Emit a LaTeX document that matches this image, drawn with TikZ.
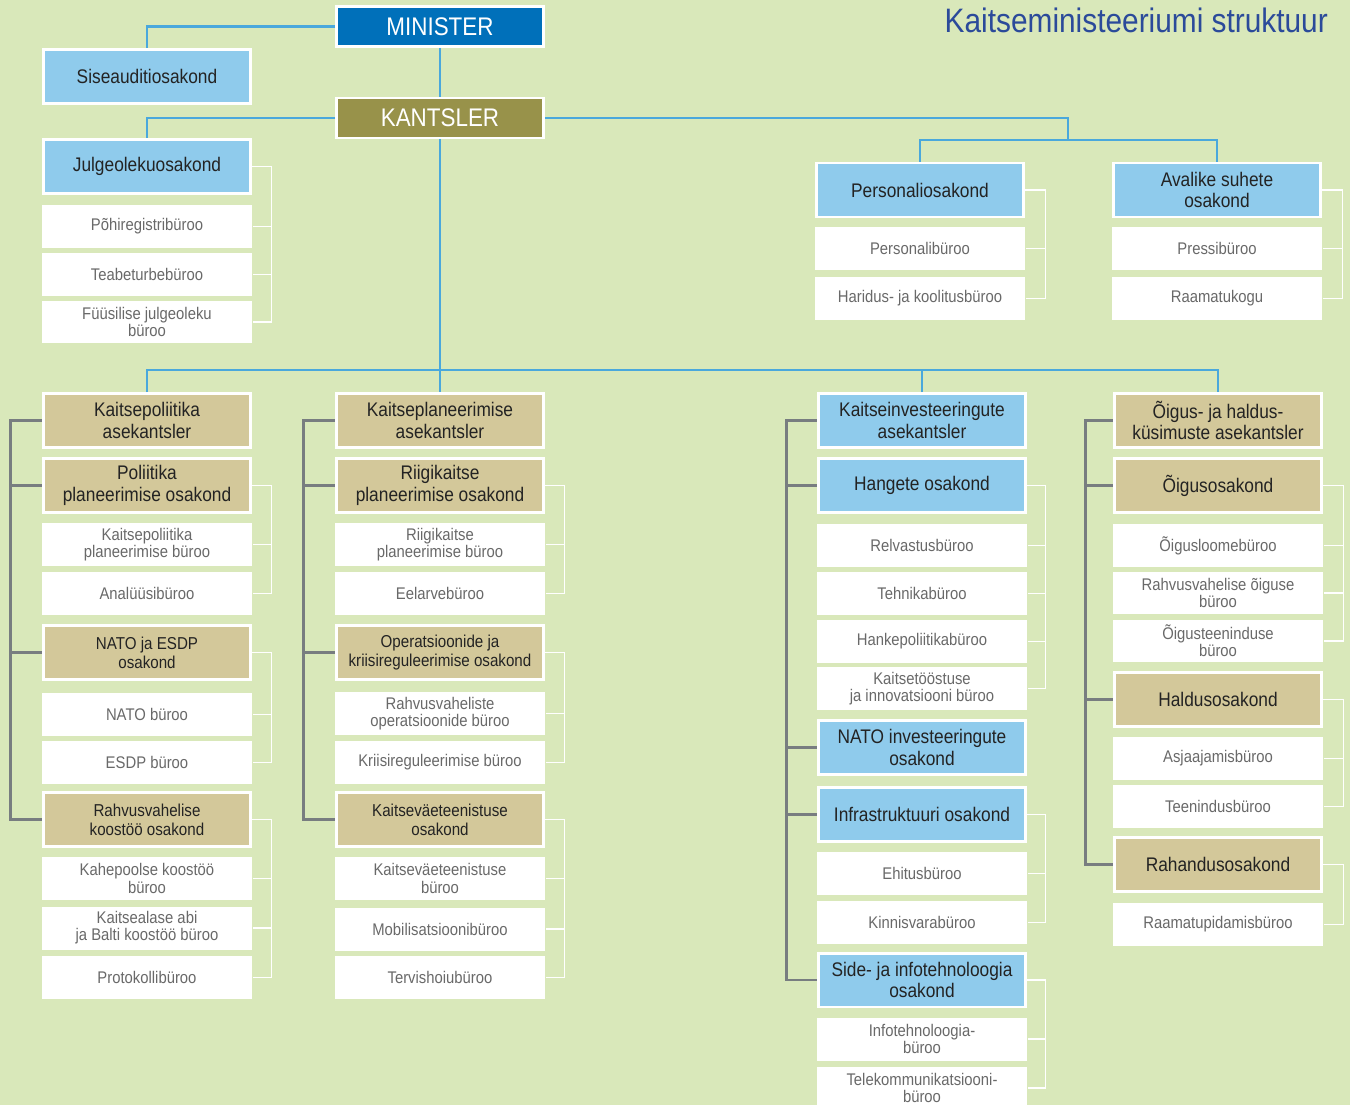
\documentclass[tikz,border=0pt]{standalone}
\usepackage{fontspec}
\setmainfont{Liberation Sans}[FakeStretch=0.88]
\definecolor{taust}{RGB}{217,232,186}
\definecolor{helesinine}{RGB}{143,203,236}
\definecolor{tumesinine}{RGB}{0,112,186}
\definecolor{oliiv}{RGB}{152,146,74}
\definecolor{beez}{RGB}{211,200,154}
\definecolor{joon}{RGB}{74,168,220}
\definecolor{hallijoon}{RGB}{120,125,128}
\definecolor{pealkiri}{RGB}{43,74,154}
\definecolor{tekst}{RGB}{35,35,35}
\definecolor{halltekst}{RGB}{105,105,105}
\begin{document}
\begin{tikzpicture}[x=0.02cm,y=-0.02cm,
    osakond/.style={draw=white,line width=1.7pt,minimum width=4.16cm,minimum height=1.08cm,
      align=center,inner sep=1pt,text=tekst,font=\fontsize{11.2}{12.2}\selectfont},
    sinine/.style={osakond,fill=helesinine},
    pruun/.style={osakond,fill=beez},
    vaike/.style={font=\fontsize{9.8}{10.8}\selectfont},
    buroo/.style={fill=white,minimum width=4.22cm,minimum height=0.86cm,align=center,
      inner sep=1pt,text=halltekst,font=\fontsize{9.6}{9.8}\selectfont},
    juht/.style={draw=white,line width=1.7pt,minimum width=4.14cm,minimum height=0.8cm,
      text=white,font=\fontsize{14.5}{15}\selectfont},
    link/.style={draw=joon,line width=1.2pt},
    haru/.style={draw=hallijoon,line width=1.3pt},
    klamber/.style={draw=white,line width=0.9pt}]
  \fill[taust] (0,0) rectangle (1350,1105); % background
  \useasboundingbox (0,0) rectangle (1350,1105);
  \clip (0,0) rectangle (1350,1105);

  \node[anchor=base east,text=pealkiri,font=\fontsize{19.3}{22}\selectfont] (pealkiri) at (1334,33) {Kaitseministeeriumi struktuur};

  % top
  \node[juht,fill=tumesinine] (minister) at (440,26.5) {MINISTER};
  \node[juht,fill=oliiv] (kantsler) at (440,118) {KANTSLER};
  \node[sinine] (sise) at (147,76.5) {Siseauditiosakond};
  \node[sinine] (julg) at (147,166.5) {Julgeolekuosakond};
  \node[buroo] (pohireg) at (147,226.5) {Põhiregistribüroo};
  \node[buroo] (teabet) at (147,274.5) {Teabeturbebüroo};
  \node[buroo] (fuus) at (147,322) {Füüsilise julgeoleku\\büroo};
  \node[sinine] (pers) at (920,190) {Personaliosakond};
  \node[buroo] (persb) at (920,248.5) {Personalibüroo};
  \node[buroo] (harid) at (920,298.5) {Haridus- ja koolitusbüroo};
  \node[sinine] (aval) at (1217,190) {Avalike suhete\\osakond};
  \node[buroo] (press) at (1217,248.5) {Pressibüroo};
  \node[buroo] (raamat) at (1217,298.5) {Raamatukogu};

  % column 1
  \node[pruun] (kpa) at (147,420.5) {Kaitsepoliitika\\asekantsler};
  \node[pruun] (ppo) at (147,485.5) {Poliitika\\planeerimise osakond};
  \node[buroo] (kppb) at (147,544.5) {Kaitsepoliitika\\planeerimise büroo};
  \node[buroo] (anal) at (147,593.5) {Analüüsibüroo};
  \node[pruun,vaike] (nes) at (147,652.5) {NATO ja ESDP\\osakond};
  \node[buroo] (natob) at (147,714.5) {NATO büroo};
  \node[buroo] (esdpb) at (147,762.5) {ESDP büroo};
  \node[pruun,vaike] (rko) at (147,819.5) {Rahvusvahelise\\koostöö osakond};
  \node[buroo] (kahep) at (147,878.5) {Kahepoolse koostöö\\büroo};
  \node[buroo] (abi) at (147,928) {Kaitsealase abi\\ja Balti koostöö büroo};
  \node[buroo] (prot) at (147,977.5) {Protokollibüroo};

  % column 2
  \node[pruun] (kpla) at (440,420.5) {Kaitseplaneerimise\\asekantsler};
  \node[pruun] (rpo) at (440,485.5) {Riigikaitse\\planeerimise osakond};
  \node[buroo] (rpb) at (440,544.5) {Riigikaitse\\planeerimise büroo};
  \node[buroo] (eelarve) at (440,593.5) {Eelarvebüroo};
  \node[pruun,vaike] (okro) at (440,652.5) {Operatsioonide ja\\kriisireguleerimise osakond};
  \node[buroo] (rob) at (440,713.5) {Rahvusvaheliste\\operatsioonide büroo};
  \node[buroo] (kriis) at (440,762.5) {Kriisireguleerimise büroo};
  \node[pruun,vaike] (kvo) at (440,819.5) {Kaitseväeteenistuse\\osakond};
  \node[buroo] (kvb) at (440,878.5) {Kaitseväeteenistuse\\büroo};
  \node[buroo] (mob) at (440,929) {Mobilisatsioonibüroo};
  \node[buroo] (terv) at (440,977.5) {Tervishoiubüroo};

  % column 3
  \node[sinine] (kia) at (922,420.5) {Kaitseinvesteeringute\\asekantsler};
  \node[sinine] (hang) at (922,485.5) {Hangete osakond};
  \node[buroo] (relv) at (922,545.5) {Relvastusbüroo};
  \node[buroo] (tehn) at (922,593.5) {Tehnikabüroo};
  \node[buroo] (hankep) at (922,641.5) {Hankepoliitikabüroo};
  \node[buroo] (kaitset) at (922,688.5) {Kaitsetööstuse\\ja innovatsiooni büroo};
  \node[sinine] (natoinv) at (922,747.5) {NATO investeeringute\\osakond};
  \node[sinine] (infra) at (922,814.5) {Infrastruktuuri osakond};
  \node[buroo] (ehit) at (922,873.5) {Ehitusbüroo};
  \node[buroo] (kinnis) at (922,922.5) {Kinnisvarabüroo};
  \node[sinine] (side) at (922,980) {Side- ja infotehnoloogia\\osakond};
  \node[buroo] (infob) at (922,1039) {Infotehnoloogia-\\büroo};
  \node[buroo] (telek) at (922,1088) {Telekommunikatsiooni-\\büroo};

  % column 4
  \node[pruun] (oha) at (1218,420.5) {Õigus- ja haldus-\\küsimuste asekantsler};
  \node[pruun] (oig) at (1218,485.5) {Õigusosakond};
  \node[buroo] (oigl) at (1218,545.5) {Õigusloomebüroo};
  \node[buroo] (rvo) at (1218,593) {Rahvusvahelise õiguse\\büroo};
  \node[buroo] (oigt) at (1218,641) {Õigusteeninduse\\büroo};
  \node[pruun] (hald) at (1218,699.5) {Haldusosakond};
  \node[buroo] (asja) at (1218,758.5) {Asjaajamisbüroo};
  \node[buroo] (teen) at (1218,806.5) {Teenindusbüroo};
  \node[pruun] (rah) at (1218,864.5) {Rahandusosakond};
  \node[buroo] (raamp) at (1218,924.5) {Raamatupidamisbüroo};

  % blue lines
  \coordinate (hub) at (440,370);
  \coordinate (rhub) at (1068,140);
  \draw[link] (minister) -- (kantsler);
  \draw[link] (minister.west) -| (sise.north);
  \draw[link] (kantsler.west) -| (julg.north);
  \draw[link] (kantsler.east) -| (rhub);
  \draw[link] (pers.north) |- (rhub) -| (aval.north);
  \draw[link] (kantsler.south) -- (hub) -- (kpla.north);
  \draw[link] (kpa.north) |- (hub) -| (oha.north);
  \draw[link] (kia.north) |- (hub);

  % gray lines
  \draw[haru] (kpa.west) -- ++(-31,0) coordinate (h1) |- (rko.west);
  \foreach \o in {ppo,nes} \draw[haru] (\o.west) -- (\o.west -| h1);
  \draw[haru] (kpla.west) -- ++(-31,0) coordinate (h2) |- (kvo.west);
  \foreach \o in {rpo,okro} \draw[haru] (\o.west) -- (\o.west -| h2);
  \draw[haru] (kia.west) -- ++(-30,0) coordinate (h3) |- (side.west);
  \foreach \o in {hang,natoinv,infra} \draw[haru] (\o.west) -- (\o.west -| h3);
  \draw[haru] (oha.west) -- ++(-27,0) coordinate (h4) |- (rah.west);
  \foreach \o in {oig,hald} \draw[haru] (\o.west) -- (\o.west -| h4);

  % white brackets
  \draw[klamber] (julg.east) -- ++(19,0) coordinate (k1) |- (fuus.east);
  \foreach \b in {pohireg,teabet} \draw[klamber] (\b.east) -- (\b.east -| k1);
  \draw[klamber] (pers.east) -- ++(20,0) |- (harid.east);
  \draw[klamber] (persb.east) -- ++(20,0);
  \draw[klamber] (aval.east) -- ++(20,0) |- (raamat.east);
  \draw[klamber] (press.east) -- ++(20,0);
  \draw[klamber] (ppo.east) -- ++(19,0) |- (anal.east);
  \draw[klamber] (kppb.east) -- ++(19,0);
  \draw[klamber] (nes.east) -- ++(19,0) |- (esdpb.east);
  \draw[klamber] (natob.east) -- ++(19,0);
  \draw[klamber] (rko.east) -- ++(19,0) coordinate (k2) |- (prot.east);
  \foreach \b in {kahep,abi} \draw[klamber] (\b.east) -- (\b.east -| k2);
  \draw[klamber] (rpo.east) -- ++(19,0) |- (eelarve.east);
  \draw[klamber] (rpb.east) -- ++(19,0);
  \draw[klamber] (okro.east) -- ++(19,0) |- (kriis.east);
  \draw[klamber] (rob.east) -- ++(19,0);
  \draw[klamber] (kvo.east) -- ++(19,0) coordinate (k3) |- (terv.east);
  \foreach \b in {kvb,mob} \draw[klamber] (\b.east) -- (\b.east -| k3);
  \draw[klamber] (hang.east) -- ++(18,0) coordinate (k4) |- (kaitset.east);
  \foreach \b in {relv,tehn,hankep} \draw[klamber] (\b.east) -- (\b.east -| k4);
  \draw[klamber] (infra.east) -- ++(18,0) |- (kinnis.east);
  \draw[klamber] (ehit.east) -- ++(18,0);
  \draw[klamber] (side.east) -- ++(18,0) |- (telek.east);
  \draw[klamber] (infob.east) -- ++(18,0);
  \draw[klamber] (oig.east) -- ++(20,0) coordinate (k5) |- (oigt.east);
  \foreach \b in {oigl,rvo} \draw[klamber] (\b.east) -- (\b.east -| k5);
  \draw[klamber] (hald.east) -- ++(20,0) |- (teen.east);
  \draw[klamber] (asja.east) -- ++(20,0);
  \draw[klamber] (rah.east) -- ++(20,0) |- (raamp.east);
\end{tikzpicture}
\end{document}
